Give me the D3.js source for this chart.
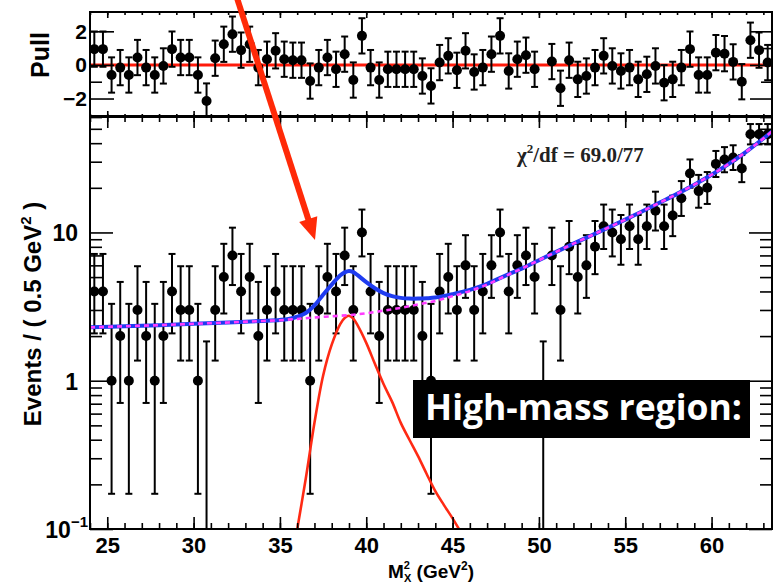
<!DOCTYPE html>
<html><head><meta charset="utf-8">
<script src="https://cdn.jsdelivr.net/npm/d3@7"></script>
<style>body{margin:0;background:#fff} svg{display:block}</style>
</head><body>
<svg id="c" width="773" height="585"></svg>
<script>
// ---------------- data ----------------
const binLow = 24, binWidth = 0.5;
const events = [4,4,1,2,1,3,2,1,2,4, 3,3,1,0,3,5,7,4,5,2, 3,4,3,3,3,1,3,5,4,7,
  3,10,4,2,3,3,3,3,2,1, 4,5,3,6,3,4,6,10,4,6, 7,5,0,7,3,8,5,6,8,11,
  10,9,11,9,11,14,11,13,17,25, 19,20,29,31,32,27,46,46,46];
const pulls = [0.94,0.94,-0.60,-0.16,-0.60,0.44,-0.16,-0.60,-0.06,0.94,
  0.44,0.44,-0.60,-2.15,0.40,1.23,1.83,0.88,1.23,-0.16,
  0.34,0.84,0.34,0.28,0.28,-0.96,-0.16,0.44,-0.26,0.64,
  -0.90,1.73,-0.16,-0.90,-0.26,-0.26,-0.26,-0.26,-0.66,-1.25,
  0.14,0.54,-0.32,0.84,-0.42,-0.16,0.64,1.73,-0.36,0.34,
  0.58,-0.26,null,0.20,-1.39,0.28,-0.86,-0.66,-0.16,0.54,
  -0.06,-0.36,-0.16,-0.86,-0.56,-0.06,-1.06,-0.86,-0.16,0.94,
  -0.60,-0.60,0.73,0.67,0.18,-1.00,1.47,0.88,0.14];
const bkgM = [24,26,28,30,32,34,35,36,37,38,39,40,41,42,43,44,45,46,47,48,49,50,51,52,53,54,55,56,57,58,59,60,61,62,63,63.5];
const bkgCurve = [2.29,2.33,2.37,2.42,2.47,2.53,2.56,2.61,2.67,2.72,2.77,2.85,2.97,3.10,3.27,3.45,3.72,4.02,4.45,5.05,5.7,6.5,7.4,8.4,9.5,10.75,12.2,13.9,15.9,18.2,21.0,24.5,29.0,35.0,43.0,48.0];
const totalM = [24,26,28,30,32,34,35,35.5,36,36.5,37,37.5,38,38.5,38.75,39,39.25,39.5,40,40.5,41,41.5,42,42.5,43,43.5,44,45,46,47,48,49,50,51,52,53,54,55,56,57,58,59,60,61,62,63,63.5];
const totalCurve = [2.29,2.33,2.37,2.42,2.47,2.53,2.57,2.61,2.70,2.86,3.22,3.80,4.45,5.15,5.38,5.5,5.4,5.15,4.62,4.2,3.9,3.72,3.62,3.58,3.58,3.6,3.64,3.84,4.1,4.5,5.08,5.7,6.5,7.4,8.4,9.5,10.75,12.2,13.9,15.9,18.2,21.0,24.5,29.0,35.0,43.0,48.0];
const sigM = [35.9,36.5,37,37.5,38,38.5,38.75,39,39.25,39.5,40,40.5,41,41.5,42,42.5,43,43.5,44,44.5,45,45.6];
const sigCurve = [0.085,0.22,0.52,1.08,1.75,2.42,2.65,2.74,2.62,2.36,1.8,1.3,0.95,0.72,0.52,0.40,0.31,0.235,0.18,0.145,0.118,0.09];
const xTicks = [25,30,35,40,45,50,55,60];
const yMajor = [0.1,1,10];
const yMinor = [0.2,0.3,0.4,0.5,0.6,0.7,0.8,0.9,2,3,4,5,6,7,8,9,20,30,40,50,60];
const pullMajor = [-2,0,2];
const pullMinor = [-1,1];
const chi2Label = "/df = 69.0/77";
const boxLabel = "High-mass region:";

// ---------------- helpers ----------------
const alpha = 0.158655;
function poisCdf(n, mu){ let t=Math.exp(-mu), s=t; for(let k=1;k<=n;k++){t*=mu/k; s+=t;} return s; }
function lowLim(n){ if(n===0) return 0; let a=0,b=n; for(let i=0;i<60;i++){const m=(a+b)/2; if(1-poisCdf(n-1,m)>alpha) b=m; else a=m;} return (a+b)/2; }
function upLim(n){ let a=n,b=n+10*Math.sqrt(n+1)+5; for(let i=0;i<60;i++){const m=(a+b)/2; if(poisCdf(n,m)>alpha) a=m; else b=m;} return (a+b)/2; }

const svg = d3.select("#c");
const L=90, R=772, T1=12, B1=117, T2=116, B2=529;
const x = d3.scaleLinear().domain([24,63.5]).range([L,R]);
const y = d3.scaleLog().domain([0.1,61]).range([B2,T2]);
const yp = d3.scaleLinear().domain([-3.1,3.15]).range([B1,T1]);
const centers = events.map((_,i)=>binLow+(i+0.5)*binWidth);
const SANS = "'Liberation Sans', Arial, sans-serif";

const defs = svg.append("defs");
defs.append("clipPath").attr("id","clipLow").append("rect").attr("x",L).attr("y",T2).attr("width",R-L).attr("height",B2-T2);
defs.append("clipPath").attr("id","clipPull").append("rect").attr("x",L).attr("y",T1).attr("width",R-L).attr("height",B1-T1);

// ---------------- pull panel ----------------
const gp = svg.append("g").attr("clip-path","url(#clipPull)");
gp.append("line").attr("x1",L).attr("x2",R).attr("y1",yp(0)).attr("y2",yp(0))
  .attr("stroke","#ff1a0a").attr("stroke-width",3);
pulls.forEach((p,i)=>{
  if(p===null) return;
  const cx=x(centers[i]);
  gp.append("line").attr("x1",cx).attr("x2",cx).attr("y1",yp(p-1.05)).attr("y2",yp(p+1.05)).attr("stroke","#000").attr("stroke-width",2);
  [p-1.05,p+1.05].forEach(v=>gp.append("line").attr("x1",cx-3.5).attr("x2",cx+3.5).attr("y1",yp(v)).attr("y2",yp(v)).attr("stroke","#000").attr("stroke-width",2));
  gp.append("circle").attr("cx",cx).attr("cy",yp(p)).attr("r",5).attr("fill","#000");
});

function styleAxis(g){ g.select(".domain").remove(); g.selectAll(".tick line").attr("stroke","#000").attr("stroke-width",1.6); }
const minorX = d3.range(24,64,1);
// pull axes
svg.append("g").attr("transform",`translate(0,${T1})`).call(d3.axisTop(x).tickValues(minorX).tickSize(-3).tickFormat("")).call(styleAxis);
svg.append("g").attr("transform",`translate(0,${T1})`).call(d3.axisTop(x).tickValues(xTicks).tickSize(-6).tickFormat("")).call(styleAxis);
svg.append("g").attr("transform",`translate(0,${B1})`).call(d3.axisBottom(x).tickValues(minorX).tickSize(-3).tickFormat("")).call(styleAxis);
svg.append("g").attr("transform",`translate(0,${B1})`).call(d3.axisBottom(x).tickValues(xTicks).tickSize(-6).tickFormat("")).call(styleAxis);
const pl = svg.append("g").attr("transform",`translate(${L},0)`).call(d3.axisLeft(yp).tickValues(pullMajor).tickSize(-24).tickPadding(4).tickFormat(d=>d<0?"\u2212"+Math.abs(d):String(d))).call(styleAxis);
pl.selectAll("text").attr("font-family",SANS).attr("font-weight","bold").attr("font-size",21).attr("fill","#000").attr("x",-3);
svg.append("g").attr("transform",`translate(${L},0)`).call(d3.axisLeft(yp).tickValues(pullMinor).tickSize(-12).tickFormat("")).call(styleAxis);
svg.append("g").attr("transform",`translate(${R},0)`).call(d3.axisRight(yp).tickValues(pullMajor).tickSize(-22).tickFormat("")).call(styleAxis);
svg.append("g").attr("transform",`translate(${R},0)`).call(d3.axisRight(yp).tickValues(pullMinor).tickSize(-11).tickFormat("")).call(styleAxis);
svg.append("rect").attr("x",L).attr("y",T1).attr("width",R-L).attr("height",B1-T1).attr("fill","none").attr("stroke","#000").attr("stroke-width",2);
svg.append("text").attr("transform",`translate(49,55) rotate(-90)`).attr("text-anchor","middle")
  .attr("font-family",SANS).attr("font-weight","bold").attr("font-size",25).text("Pull");

// ---------------- main panel ----------------
const gm = svg.append("g").attr("clip-path","url(#clipLow)");
events.forEach((n,i)=>{
  const cx=x(centers[i]);
  const lo=Math.max(lowLim(n),0.03), hi=upLim(n);
  gm.append("line").attr("x1",cx).attr("x2",cx).attr("y1",y(lo)).attr("y2",y(hi)).attr("stroke","#000").attr("stroke-width",2);
  [lo,hi].forEach(v=>gm.append("line").attr("x1",cx-3.5).attr("x2",cx+3.5).attr("y1",y(v)).attr("y2",y(v)).attr("stroke","#000").attr("stroke-width",2));
  if(n>0) gm.append("circle").attr("cx",cx).attr("cy",y(n)).attr("r",5).attr("fill","#000");
});
const line = d3.line().x(d=>x(d[0])).y(d=>y(d[1])).curve(d3.curveMonotoneX);
const smooth = d3.line().x(d=>x(d[0])).y(d=>y(d[1])).curve(d3.curveCatmullRom.alpha(0.5));
gm.append("path").attr("d",smooth(sigM.map((m,i)=>[m,sigCurve[i]]))).attr("fill","none").attr("stroke","#ff2a14").attr("stroke-width",2.6);
gm.append("path").attr("d",smooth(totalM.map((m,i)=>[m,totalCurve[i]]))).attr("fill","none").attr("stroke","#1f3cf0").attr("stroke-width",4);
gm.append("path").attr("d",line(bkgM.map((m,i)=>[m,bkgCurve[i]]))).attr("fill","none").attr("stroke","#ff3cff").attr("stroke-width",2.6).attr("stroke-dasharray","5,4");

// axes main
svg.append("g").attr("transform",`translate(0,${B2})`).call(d3.axisBottom(x).tickValues(minorX).tickSize(-6).tickFormat("")).call(styleAxis);
const xb = svg.append("g").attr("transform",`translate(0,${B2})`).call(d3.axisBottom(x).tickValues(xTicks).tickSize(-12).tickPadding(8)).call(styleAxis);
xb.selectAll("text").attr("font-family",SANS).attr("font-weight","bold").attr("font-size",22).attr("fill","#000").attr("y",8);
svg.append("g").attr("transform",`translate(0,${T2})`).call(d3.axisTop(x).tickValues(minorX).tickSize(-6).tickFormat("")).call(styleAxis);
svg.append("g").attr("transform",`translate(0,${T2})`).call(d3.axisTop(x).tickValues(xTicks).tickSize(-12).tickFormat("")).call(styleAxis);
svg.append("g").attr("transform",`translate(${L},0)`).call(d3.axisLeft(y).tickValues(yMinor).tickSize(-12).tickFormat("")).call(styleAxis);
const yl = svg.append("g").attr("transform",`translate(${L},0)`).call(d3.axisLeft(y).tickValues(yMajor).tickSize(-23).tickPadding(12).tickFormat("")).call(styleAxis);
yl.selectAll(".tick").each(function(d){
  const t = d3.select(this).append("text").attr("font-family",SANS).attr("font-weight","bold").attr("font-size",23)
    .attr("fill","#000").attr("text-anchor","end").attr("dy","0.36em");
  if(d===0.1){ t.attr("x",-2); t.append("tspan").text("10"); t.append("tspan").attr("font-size",15).attr("dy","-0.75em").text("\u22121"); }
  else { t.attr("x",-12).text(String(d)); }
});
svg.append("g").attr("transform",`translate(${R},0)`).call(d3.axisRight(y).tickValues(yMinor).tickSize(-12).tickFormat("")).call(styleAxis);
svg.append("g").attr("transform",`translate(${R},0)`).call(d3.axisRight(y).tickValues(yMajor).tickSize(-23).tickFormat("")).call(styleAxis);
svg.append("rect").attr("x",L).attr("y",T2).attr("width",R-L).attr("height",B2-T2).attr("fill","none").attr("stroke","#000").attr("stroke-width",2);

// titles
const xt = svg.append("text").attr("x",431).attr("y",578).attr("text-anchor","middle")
  .attr("font-family",SANS).attr("font-weight","bold").attr("font-size",19);
xt.append("tspan").text("M");
xt.append("tspan").attr("font-size",11).attr("dy",-9).text("2");
xt.append("tspan").attr("font-size",11).attr("dx",-6).attr("dy",13).text("X");
xt.append("tspan").attr("dy",-4).text(" (GeV");
xt.append("tspan").attr("font-size",12).attr("dy",-8).text("2");
xt.append("tspan").attr("dy",8).text(")");
const yt = svg.append("text").attr("transform",`translate(41,314) rotate(-90)`).attr("text-anchor","middle")
  .attr("font-family",SANS).attr("font-weight","bold").attr("font-size",24);
yt.append("tspan").text("Events / ( 0.5 GeV");
yt.append("tspan").attr("font-size",15).attr("dy",-10).text("2");
yt.append("tspan").attr("dy",10).text(" )");

// chi2
const ct = svg.append("text").attr("x",517).attr("y",162).attr("font-family","'Liberation Serif', 'Times New Roman', serif")
  .attr("font-weight","bold").attr("font-size",21).attr("fill","#222");
ct.append("tspan").text("\u03c7");
ct.append("tspan").attr("font-size",13).attr("dy",-9).text("2");
ct.append("tspan").attr("dy",9).text(chi2Label);

// annotation box
svg.append("rect").attr("x",413).attr("y",380).attr("width",337).attr("height",58).attr("fill","#000");
const bt = svg.append("text").attr("x",425).attr("y",420).attr("font-family","'Open Sans', sans-serif")
  .attr("font-weight","bold").attr("font-size",38).attr("fill","#fff").text(boxLabel);
const w = bt.node().getComputedTextLength();
bt.attr("font-size", 38*317/w);

// red arrow
const tip=[315,240], start=[237,-2];
const dx=tip[0]-start[0], dy=tip[1]-start[1], len=Math.hypot(dx,dy), ux=dx/len, uy=dy/len;
const hl=22, hw=9.5, base=[tip[0]-hl*ux, tip[1]-hl*uy];
svg.append("line").attr("x1",start[0]).attr("y1",start[1]).attr("x2",base[0]+2*ux).attr("y2",base[1]+2*uy)
  .attr("stroke","#ff2a08").attr("stroke-width",6);
svg.append("polygon").attr("points",[[base[0]-hw*uy,base[1]+hw*ux],[base[0]+hw*uy,base[1]-hw*ux],tip].map(p=>p.join(",")).join(" "))
  .attr("fill","#ff2a08");
</script>
</body></html>
